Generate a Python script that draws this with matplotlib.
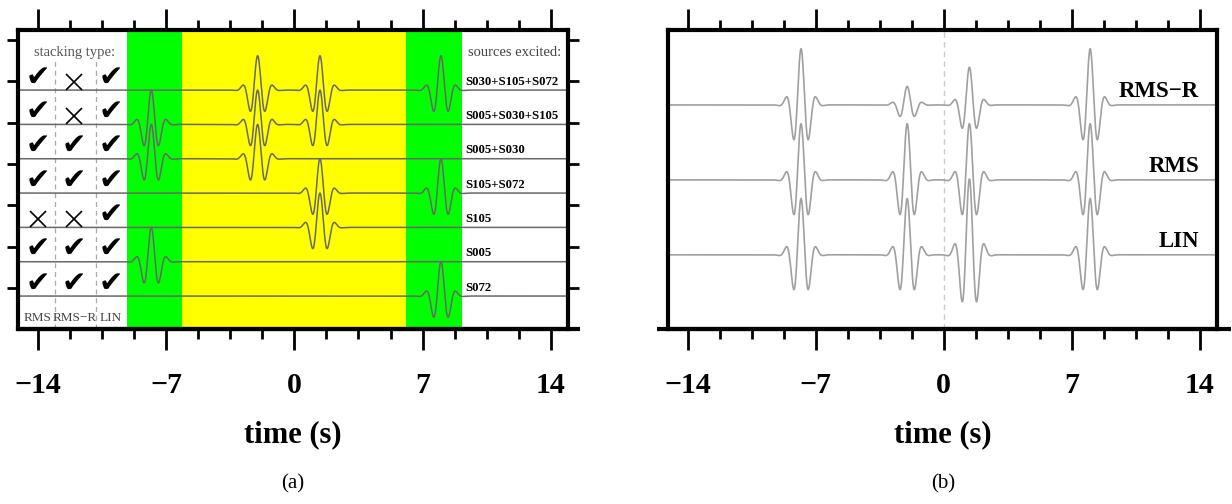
import matplotlib
matplotlib.use("Agg")
import matplotlib.pyplot as plt
from matplotlib.ticker import MultipleLocator
import numpy as np

matplotlib.rc("font", family="Liberation Serif")
matplotlib.rc("axes", linewidth=3)

# Sources and their arrival times (s)
source_names = ["S005", "S030", "S105", "S072"]
source_times = [-7.8, -2.0, 1.4, 8.0]

# Panel (a): traces from top to bottom
trace_labels = ["S030+S105+S072", "S005+S030+S105", "S005+S030",
                "S105+S072", "S105", "S005", "S072"]
# which stacking types use each trace: RMS, RMS-R, LIN
stack_types = ["RMS", "RMS\u2212R", "LIN"]
stack_flags = [[1, 0, 1],
               [1, 0, 1],
               [1, 1, 1],
               [1, 1, 1],
               [0, 0, 1],
               [1, 1, 1],
               [1, 1, 1]]

# Time windows (s)
green_windows = [(-9.15, -6.1), (6.1, 9.15)]
yellow_window = (-6.1, 6.1)

# Panel (b): stacked amplitude of each source (order as source_names)
stack_labels = ["RMS\u2212R", "RMS", "LIN"]
amps_rmsr = [1.0, 0.33, 0.67, 1.0]
amps_rms = [1.0, 1.0, 1.0, 1.0]
amps_lin = [1.0, 1.0, 1.35, 1.0]

tick_vals = [-14, -7, 0, 7, 14]
tick_text = ["\u221214", "\u22127", "0", "7", "14"]

xmin, xmax = -15.07, 14.93


def wavelet(t):
    return np.cos(np.pi * t / 0.43) * np.exp(-(t / 0.59) ** 2)


t = np.linspace(xmin, xmax, 4000)

fig = plt.figure(figsize=(12.32, 5.04), dpi=100)
W, H = 1232.0, 504.0
axA = fig.add_axes([18 / W, 175 / H, 550 / W, 299 / H])
axB = fig.add_axes([668 / W, 175 / H, 549 / W, 299 / H])


def style_x(ax):
    ax.set_xlim(xmin, xmax)
    ax.set_xticks(tick_vals, labels=tick_text)
    ax.xaxis.set_minor_locator(MultipleLocator(1.75))
    ax.tick_params(axis="x", which="both", direction="out", top=True,
                   bottom=True, width=2, labelsize=21.5, pad=16)
    ax.tick_params(axis="x", which="major", length=15)
    ax.tick_params(axis="x", which="minor", length=7.5)
    for lab in ax.get_xticklabels():
        lab.set_fontweight("bold")
    ax.set_xlabel("time (s)", fontsize=22, fontweight="bold", labelpad=15)


# ---------------- panel (a)
n = len(trace_labels)
axA.set_ylim(-0.96, 7.75)
for lo, hi in green_windows:
    axA.axvspan(lo, hi, color="#00ff00", lw=0, zorder=0)
axA.axvspan(yellow_window[0], yellow_window[1], color="#ffff00", lw=0, zorder=0)

for i, lab in enumerate(trace_labels):
    k = n - 1 - i
    y = np.full_like(t, float(k))
    for name in lab.split("+"):
        y += wavelet(t - source_times[source_names.index(name)])
    axA.plot(t, y, color="#686868", lw=1.1, zorder=2)
    axA.text(9.31, k + 0.07, lab, fontsize=9.2, fontweight="bold",
             ha="left", va="bottom", zorder=3)
    for c, flag in enumerate(stack_flags[i]):
        cx = -14 + 2 * c
        if flag:
            axA.text(cx, k + 0.36, "\u2714", family="DejaVu Sans", fontsize=21,
                     ha="center", va="center", zorder=4)
        else:
            axA.plot(cx, k + 0.24, marker="x", ms=12, mew=1.2, color="k",
                     zorder=4)

for sx in (-13.05, -10.8):
    axA.plot([sx, sx], [-0.96, 6.93], ls=(0, (4, 3)), color="#aaaaaa",
             lw=0.9, zorder=1)

axA.text(-12.0, 7.1, "stacking type:", fontsize=10.5, color="#555555",
         ha="center", va="center")
axA.text(9.47, 7.1, "sources excited:", fontsize=10.5, color="#444444",
         ha="left", va="center")
for c, s in enumerate(stack_types):
    axA.text(-14 + 2 * c, -0.64, s, fontsize=9.5, color="#444444",
             ha="center", va="center")

axA.set_yticks([0.23, 1.43, 2.65, 3.84, 5.04, 6.26, 7.46])
axA.tick_params(axis="y", direction="out", left=True, right=True, length=8,
                width=2, labelleft=False)
style_x(axA)
axA.plot([0, 1.022], [0, 0], transform=axA.transAxes, color="k", lw=3,
         clip_on=False, solid_capstyle="butt")

# ---------------- panel (b)
axB.set_ylim(-0.99, 3.0)
axB.axvline(0, ls=(0, (4, 3)), color="#cccccc", lw=1.0, zorder=1)
for base, lab, amps in zip([2, 1, 0], stack_labels,
                           [amps_rmsr, amps_rms, amps_lin]):
    y = np.full_like(t, float(base))
    for ts, a in zip(source_times, amps):
        y += 0.75 * a * wavelet(t - ts)
    axB.plot(t, y, color="#a0a0a0", lw=1.2, zorder=2)
    axB.text(13.95, base + 0.04, lab, fontsize=16.5, fontweight="bold",
             ha="right", va="bottom", zorder=3)
axB.set_yticks([])
style_x(axB)
axB.plot([-0.02, 1.026], [0, 0], transform=axB.transAxes, color="k", lw=3,
         clip_on=False, solid_capstyle="butt")

fig.text(293 / W, 1 - 484 / H, "(a)", ha="center", va="center", fontsize=15)
fig.text(943 / W, 1 - 484 / H, "(b)", ha="center", va="center", fontsize=15)

fig.savefig("out.png", dpi=100)
